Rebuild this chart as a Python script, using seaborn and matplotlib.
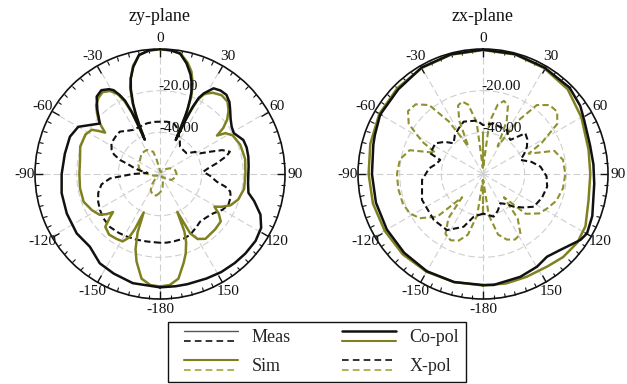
import numpy as np
import pandas as pd
import matplotlib
matplotlib.use("Agg")
import matplotlib.pyplot as plt
import seaborn as sns
from matplotlib.lines import Line2D
from matplotlib.legend_handler import HandlerBase
from matplotlib.ticker import FixedLocator

sns.set_style("white")
plt.rcParams["font.family"] = ["Liberation Serif", "DejaVu Serif"]

BLACK = "#111111"
OLIVE = "#7f8120"
OLIVE_DASH = "#8f9130"
GRID = "#cfcfcf"

# ---------------- zy-plane (angles in degrees, levels in dB) ----------------
zy_meas_co_ang = [-180, -166, -155, -146, -136, -125.5, -113, -101, -90, -78, -67.5, -60, -55, -50,
                  -44.4, -39.3, -35, -31, -29, -27, -25.5, -24.5, -24.2, -24, -23, -22, -21, -19,
                  -17, -14, -10, -5, 0, 5, 9.4, 13.5, 17, 19.3, 21, 22, 23, 23.6, 24.2, 24.8,
                  25.3, 26, 27, 28.5, 32, 36, 40, 44, 47.6, 52, 56.6, 61, 67.8, 73, 79, 85, 90,
                  96, 102, 106, 112, 118, 125, 133, 140, 148, 156, 166, 172, 180]
zy_meas_co_db = [-5.6, -6.0, -7.3, -8.3, -11.5, -10.9, -11.4, -11.9, -12.8, -13.3, -13.2, -14.7, -19, -22.3,
                 -17, -12, -10.9, -12.5, -14, -17.5, -21, -27, -34, -42, -35, -29, -24, -17,
                 -12, -7, -2, -0.4, 0, -0.4, -1.3, -5.4, -10, -13.9, -18, -21.6, -26, -30, -36, -42,
                 -32, -24, -19, -16, -11.5, -10.5, -10.4, -12, -14.4, -17, -18.8, -19.5, -16.8, -16.5, -16.8, -17.3, -17.6,
                 -17.5, -16.6, -13, -8, -5, -4, -4, -4.2, -4.5, -5.1, -5.5, -5.6, -5.6]

zy_sim_co_ang = [-180, -175, -170, -165, -162, -159, -157, -155.5, -154, -151, -146, -140, -134, -131,
                 -129, -127, -124, -118, -110, -100, -90, -80, -71, -62, -57, -55, -53, -51, -49,
                 -46, -43, -39, -35, -31, -28, -26, -24.5, -23.5, -22.5, -21, -19, -17, -14, -10,
                 -5, 0, 5, 10, 14, 17, 20, 22, 23.5, 24.5, 25.5, 27, 29, 33, 38, 43, 47, 51, 54,
                 56, 58, 62, 70, 80, 90, 100, 108, 114, 118, 121, 124, 128, 135, 145, 150, 153,
                 155.5, 157, 159, 162, 165, 170, 175, 180]
zy_sim_co_db = [-6, -6.5, -9, -16.5, -22, -30, -40, -31, -26, -23, -22.5, -22, -23.5, -28,
                -31, -28, -25, -23, -21, -21, -21.3, -21, -19.5, -19.5, -21, -24, -27, -24, -21,
                -18, -15, -13, -12, -13.5, -16.5, -21, -28, -40, -30, -23, -16, -12, -6.5, -2,
                -0.5, -0.2, -0.4, -1.6, -5, -8.5, -14, -20, -28, -40, -28, -20, -16, -13.5, -12, -12.5, -15, -18.5, -22.5,
                -27, -23, -20.5, -19, -18.5, -19, -19, -20.5, -23, -26.5, -29.5, -26, -23, -22.5, -22, -24, -28,
                -40, -30, -25, -20, -16, -9, -6.5, -6]

zy_meas_x_ang = [-180, -169, -160, -152, -145, -136.5, -128, -121, -114, -107, -100, -95, -90, -85,
                 -80, -76.5, -73, -70.7, -67, -63.6, -58, -54, -48, -43.4, -37, -31, -25, -19,
                 -14.7, -7, 0, 7, 14.6, 19, 23.4, 30, 36, 45, 52, 58, 62.7, 66, 69, 72.3, 75,
                 79.3, 83, 87, 92, 97.7, 101, 104, 108, 114.4, 120, 126.4, 133, 140, 146, 153.8,
                 160, 168, 174.5, 180]
zy_meas_x_db = [-27, -27, -26.5, -26, -25.5, -25, -25.5, -26.4, -27.5, -29, -31.5, -36, -47, -54,
                -50, -47, -44, -39.7, -36, -34.1, -32.5, -32.3, -32, -32, -34, -35.3, -35.3, -35.2,
                -34.9, -34.8, -34.9, -34.7, -34.6, -36, -37.9, -41, -43.7, -44, -43.8, -40, -38.4, -33.7, -28, -24.8, -27,
                -32.3, -36.5, -39.2, -36, -32.5, -28, -25.3, -24.3, -24, -25.5, -28.2, -29.5, -30.1, -29, -27.4,
                -27, -27, -26.9, -27]

zy_sim_x_ang = [-180, -170, -160, -150, -142, -132, -120, -105, -96, -83, -74, -67, -55, -42, -29,
                -17, -13, -8, 0, 20, 40, 52, 60, 75, 90, 100, 117, 131, 145, 160, 170, 180]
zy_sim_x_db = [-51, -49.5, -49.5, -51, -54, -57.5, -58.5, -57, -55.2, -51, -49.5, -48.8, -48.3, -46.7, -46.8,
               -48.8, -53, -57, -58.5, -59, -58, -56, -54.5, -52.5, -52, -52.3, -53.7, -56.8, -58.5, -56, -53, -51]

# ---------------- zx-plane ----------------
zx_meas_co_ang = [-180, -165, -150, -135, -120, -105, -90, -75, -70, -60, -45, -30, -15, 0, 15, 30,
                  45, 55, 62, 75, 85, 95, 104, 111, 119.7, 124, 127.4, 134.5, 142.3, 149.8, 160,
                  174.5, 180]
zx_meas_co_db = [-6.7, -6.3, -6.1, -6.5, -6.7, -6.8, -6.7, -5.5, -4.8, -3, -2.5, -1, -0.5, -0.3, -0.4, -1,
                 -1.3, -3, -5, -6.8, -6.8, -6.4, -5.5, -3.8, -2.5, -3.5, -5.2, -8, -9.8, -8.5, -7.5,
                 -6.5, -6.7]

zx_sim_co_ang = [-180, -165, -150, -135, -120, -105, -90, -75, -60, -45, -30, -15, 0, 15, 30, 45,
                 60, 77, 90, 104, 117, 126, 136, 145, 157, 168, 180]
zx_sim_co_db = [-6.5, -6.3, -5.8, -5.5, -5.5, -5.3, -5.1, -4, -2.5, -1.8, -1.2, -0.7, -0.5, -0.6, -1.3, -2.5,
                -5.5, -8, -8.5, -7.8, -4.8, -4, -4.6, -5.9, -6.4, -6.3, -6.5]

zx_meas_x_ang = [-180, -167.7, -159.8, -147.3, -133, -113, -95.6, -84, -78, -71.8, -68.6, -57.2, -50,
                 -43.7, -36, -28, -20.3, -6.4, 0, 11.9, 20, 28.6, 33, 38.8, 46.1, 52, 58.2, 64, 69.4,
                 76, 82.7, 92, 101.2, 112, 122.8, 130, 136.8, 143, 149.4, 158, 166, 180]
zx_meas_x_db = [-41, -39, -33, -28, -27.7, -28.2, -30.6, -34, -37, -38.4, -32.8, -32.8, -36,
                -39.6, -37, -35.2, -33.2, -34.2, -36.5, -35.2, -36, -36, -38, -39, -31.8, -33, -35.2, -38, -40.8,
                -36, -32.2, -29.5, -28.6, -29.5, -31, -35, -38.5, -42, -43.7, -41, -38.9, -41]

zx_sim_x_ang = [-180, -178, -172, -166, -160, -154, -148, -142, -138, -133, -125, -118, -110, -100, -90,
                -80, -72, -66, -62, -56, -50, -44, -38, -33, -28, -24, -20, -16, -12, -7, -2, 0,
                2, 7, 12, 16, 20, 24, 28, 33, 38, 44, 50, 56, 62, 66, 72, 80, 90, 100, 110, 118,
                125, 133, 138, 142, 148, 154, 160, 166, 172, 178, 180]
zx_sim_x_db = [-41, -57, -40, -30, -26, -24.6, -26, -33, -45, -30, -23, -20, -19, -18.7, -18.7,
               -19.5, -23, -35, -27, -17, -13, -13.5, -18, -30, -45, -32, -25, -23.8, -26, -35, -57, -40,
               -57, -35, -26, -23.5, -25, -32, -45, -30, -18, -14, -13.5, -17, -28, -36, -24, -21, -20.5, -21, -22.5, -25,
               -27, -32, -45, -33, -26, -25, -26.5, -30, -40, -57, -41]

theta_tick_deg = list(range(0, 360, 30))
theta_tick_labels = ["0", "30", "60", "90", "120", "150", "-180", "-150", "-120", "-90", "-60", "-30"]
ring_levels = [-40, -20]
ring_labels = ["-40.00", "-20.00"]

legend_labels = ["Meas", "Sim", "Co-pol", "X-pol"]


def draw_curve(ax, ang, db, color, dashed, lw):
    df = pd.DataFrame({"theta": np.deg2rad(ang), "level": db})
    ls = (0, (3, 1.6)) if dashed else "-"
    sns.lineplot(data=df, x="theta", y="level", ax=ax, sort=False, estimator=None,
                 color=color, lw=lw, linestyle=ls)


def style_polar(ax):
    ax.set_theta_zero_location("N")
    ax.set_theta_direction(-1)
    ax.set_ylim(-60, 0)
    ax.set_xlabel("")
    ax.set_ylabel("")
    ax.set_xticks(np.deg2rad(theta_tick_deg))
    ax.set_xticklabels(theta_tick_labels, fontsize=11, color=BLACK)
    ax.xaxis.set_minor_locator(FixedLocator(np.deg2rad(np.arange(0, 360, 5))))
    ax.tick_params(axis="x", which="both", bottom=False, top=True, direction="in", color=BLACK)
    ax.tick_params(axis="x", which="major", length=6, width=1.0, pad=0.5)
    ax.tick_params(axis="x", which="minor", length=3, width=0.8)
    ax.set_yticks(ring_levels)
    ax.set_yticklabels([])
    ax.grid(True, color=GRID, lw=0.8, ls=(0, (6, 3)))
    ax.spines["polar"].set_linewidth(1.2)
    ax.spines["polar"].set_color(BLACK)
    for lev, txt in zip(ring_levels, ring_labels):
        ax.text(np.deg2rad(-0.8), lev + 2, txt, ha="left", va="center", fontsize=11, color=BLACK)


fig = plt.figure(figsize=(6.27, 3.84), dpi=100)
ax_l = fig.add_axes([35 / 627, 85 / 384, 250 / 627, 250 / 384], projection="polar")
ax_r = fig.add_axes([358 / 627, 85 / 384, 250 / 627, 250 / 384], projection="polar")

draw_curve(ax_l, zy_sim_x_ang, zy_sim_x_db, OLIVE_DASH, True, 1.5)
draw_curve(ax_l, zy_meas_x_ang, zy_meas_x_db, BLACK, True, 1.5)
draw_curve(ax_l, zy_sim_co_ang, zy_sim_co_db, OLIVE, False, 1.8)
draw_curve(ax_l, zy_meas_co_ang, zy_meas_co_db, BLACK, False, 1.8)

draw_curve(ax_r, zx_sim_x_ang, zx_sim_x_db, OLIVE_DASH, True, 1.5)
draw_curve(ax_r, zx_meas_x_ang, zx_meas_x_db, BLACK, True, 1.5)
draw_curve(ax_r, zx_sim_co_ang, zx_sim_co_db, OLIVE, False, 1.8)
draw_curve(ax_r, zx_meas_co_ang, zx_meas_co_db, BLACK, False, 1.8)

style_polar(ax_l)
style_polar(ax_r)

fig.text(160 / 627, 1 - 21 / 384, "zy-plane", ha="center", va="baseline", fontsize=13, color=BLACK)
fig.text(483 / 627, 1 - 21 / 384, "zx-plane", ha="center", va="baseline", fontsize=13, color=BLACK)


class PairedLines:
    def __init__(self, upper, lower):
        self.upper = upper
        self.lower = lower


class PairedLinesHandler(HandlerBase):
    def create_artists(self, legend, orig_handle, xdescent, ydescent, width, height, fontsize, trans):
        gap = 0.28 * fontsize
        inset = 0.5 * fontsize
        yc = (height - ydescent) / 2
        artists = []
        for spec, dy in ((orig_handle.upper, gap), (orig_handle.lower, -gap)):
            line = Line2D([-xdescent + inset, width - xdescent], [yc + dy, yc + dy], **spec)
            line.set_transform(trans)
            artists.append(line)
        return artists


solid_gray = dict(color="#555555", lw=1.0)
dash_black = dict(color=BLACK, lw=1.2, ls=(0, (4, 2.5)))
solid_olive = dict(color=OLIVE, lw=1.5)
dash_olive = dict(color="#a4a63a", lw=1.2, ls=(0, (4, 2.5)))
solid_black = dict(color=BLACK, lw=1.8)

handles = [PairedLines(solid_gray, dash_black),
           PairedLines(solid_olive, dash_olive),
           PairedLines(solid_black, solid_olive),
           PairedLines(dash_black, dash_olive)]

fig.legend(handles, legend_labels, handler_map={PairedLines: PairedLinesHandler()},
           loc="upper left", bbox_to_anchor=(168 / 627, 1 - 322 / 384), bbox_transform=fig.transFigure,
           ncol=2, fontsize=13, frameon=True, fancybox=False, framealpha=1, edgecolor=BLACK,
           borderpad=0.4, borderaxespad=0, handlelength=3.5, handletextpad=0.75,
           columnspacing=2.3, labelspacing=0.65)

fig.savefig("out.png", dpi=100, facecolor="white")
